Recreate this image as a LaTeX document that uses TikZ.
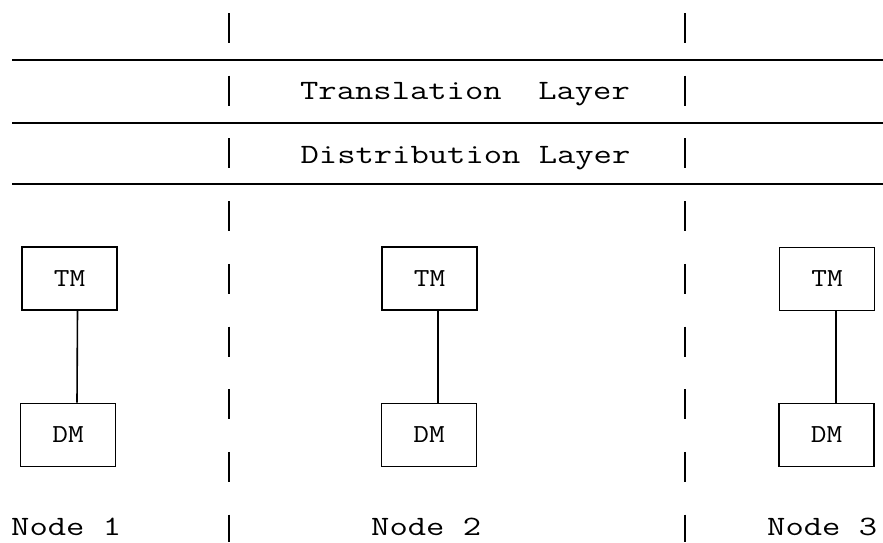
\documentclass[tikz,border=0pt]{standalone}
\usepackage{graphicx}
\newcommand{\wide}[1]{\scalebox{1.27}[1]{#1}}
\newcommand{\widem}[1]{\scalebox{1.17}[1]{#1}}
\begin{document}
\begin{tikzpicture}[x=1pt,y=-1pt,
  layerline/.style={line width=2pt},
  sepline/.style={line width=2pt,dash pattern=on 30pt off 32.7pt},
  bigtext/.style={inner sep=0pt,font=\ttfamily\fontsize{28}{28}\selectfont},
  mbox/.style={draw,line width=1.6pt,minimum width=95pt,minimum height=63pt,inner sep=0pt,font=\ttfamily\fontsize{26}{26}\selectfont},
  link/.style={line width=1.6pt}]
\useasboundingbox (0,0) rectangle (883,542);
% layer lines
\draw[layerline] (12,59.5) -- (883,59.5);
\draw[layerline] (12,122.5) -- (883,122.5);
\draw[layerline] (12,183.5) -- (883,183.5);
% node separators
\draw[sepline] (229,13) -- (229,542);
\draw[sepline] (685,13) -- (685,542);
% layer labels
\node[bigtext,anchor=base] (tl) at (465,99) {\wide{Translation\ \ Layer}};
\node[bigtext,anchor=base] (dl) at (465.5,163) {\wide{Distribution Layer}};
% managers
\node[mbox] (tm1) at (69.5,278.5) {\widem{TM}};
\node[mbox] (dm1) at (68,435) {\widem{DM}};
\node[mbox] (tm2) at (429.5,278.5) {\widem{TM}};
\node[mbox] (dm2) at (429,435) {\widem{DM}};
\node[mbox] (tm3) at (827,279) {\widem{TM}};
\node[mbox] (dm3) at (826.5,435) {\widem{DM}};
\draw[link] ([xshift=8pt]tm1.south) -- ([xshift=9pt]dm1.north);
\draw[link] ([xshift=8.5pt]tm2.south) -- ([xshift=9pt]dm2.north);
\draw[link] ([xshift=9pt]tm3.south) -- ([xshift=9.5pt]dm3.north);
% node labels
\node[bigtext,anchor=base west] (n1) at (11,535) {\wide{Node 1}};
\node[bigtext,anchor=base west] (n2) at (371,535) {\wide{Node 2}};
\node[bigtext,anchor=base west] (n3) at (767,535) {\wide{Node 3}};
\end{tikzpicture}
\end{document}
